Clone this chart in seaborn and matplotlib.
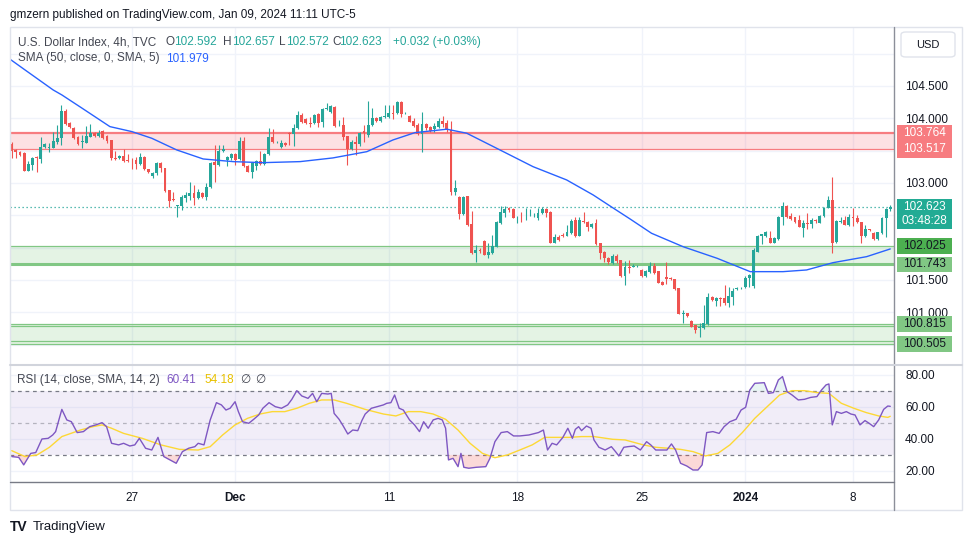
import numpy as np
import matplotlib
matplotlib.use("Agg")
import matplotlib.pyplot as plt
import matplotlib.transforms as mtransforms
from matplotlib.patches import Rectangle, FancyBboxPatch
from matplotlib.lines import Line2D
import seaborn as sns

# ---------------- data ----------------
opens = [103.602, 103.510, 103.479, 103.463, 103.185, 103.278, 103.401, 103.371, 103.561, 103.541,
         103.541, 103.633, 103.695, 104.113, 103.927, 103.850, 103.711, 103.633, 103.618, 103.711,
         103.773, 103.726, 103.803, 103.726, 103.664, 103.386, 103.386, 103.417, 103.355, 103.355,
         103.355, 103.293, 103.401, 103.216, 103.108, 103.154, 103.309, 103.231, 102.891, 102.752,
         102.644, 102.644, 102.767, 102.798, 102.845, 102.767, 102.845, 102.783, 102.937, 103.324,
         103.278, 103.494, 103.355, 103.386, 103.448, 103.371, 103.649, 103.262, 103.169, 103.262,
         103.340, 103.293, 103.448, 103.711, 103.625, 103.556, 103.618, 103.773, 103.757, 103.850,
         104.051, 103.989, 103.927, 103.927, 104.066, 103.943, 104.143, 104.097, 104.174, 103.888,
         103.896, 103.726, 103.525, 103.633, 103.602, 103.803, 103.742, 103.896, 104.004, 103.958,
         104.020, 104.020, 104.082, 104.082, 104.252, 104.074, 104.035, 103.958, 103.896, 103.757,
         103.912, 103.865, 103.834, 103.865, 103.958, 103.927, 103.819, 102.860, 102.783, 102.520,
         102.798, 102.365, 101.917, 101.963, 102.102, 101.886, 101.917, 102.010, 102.381, 102.535,
         102.613, 102.597, 102.466, 102.473, 102.481, 102.497, 102.497, 102.458, 102.535, 102.597,
         102.551, 102.072, 102.164, 102.195, 102.180, 102.226, 102.427, 102.180, 102.412, 102.396,
         102.319, 102.381, 102.072, 101.932, 101.839, 101.762, 101.870, 101.809, 101.561, 101.700,
         101.705, 101.711, 101.654, 101.561, 101.623, 101.716, 101.638, 101.468, 101.546, 101.530,
         101.515, 101.376, 100.978, 100.989, 100.865, 100.803, 100.757, 100.757, 100.819, 101.236,
         101.175, 101.221, 101.221, 101.144, 101.236, 101.360, 101.371, 101.391, 101.530, 101.406,
         101.932, 102.180, 102.180, 102.149, 102.072, 102.133, 102.473, 102.644, 102.489, 102.473,
         102.427, 102.303, 102.381, 102.365, 102.427, 102.381, 102.489, 102.613, 102.736, 102.087,
         102.396, 102.427, 102.350, 102.473, 102.458, 102.396, 102.180, 102.288, 102.226, 102.133,
         102.226, 102.458, 102.592]

highs = [103.633, 103.525, 103.494, 103.470, 103.340, 103.401, 103.417, 103.711, 103.618, 103.618,
         103.788, 103.896, 104.205, 104.143, 103.943, 103.865, 103.726, 103.742, 103.881, 103.912,
         103.788, 103.819, 103.819, 103.742, 103.670, 103.494, 103.432, 103.525, 103.448, 103.386,
         103.401, 103.463, 103.417, 103.220, 103.169, 103.324, 103.324, 103.236, 102.896, 102.860,
         102.659, 102.814, 102.860, 103.015, 102.968, 102.907, 102.860, 102.999, 103.324, 103.587,
         103.587, 103.587, 103.417, 103.463, 103.463, 103.711, 103.711, 103.278, 103.324, 103.355,
         103.494, 103.463, 103.850, 103.834, 103.649, 103.664, 103.633, 103.788, 103.912, 104.113,
         104.082, 104.004, 104.020, 104.066, 104.082, 104.159, 104.236, 104.205, 104.190, 103.973,
         104.020, 103.730, 103.664, 103.726, 103.788, 103.896, 104.267, 104.159, 104.020, 104.035,
         104.205, 104.205, 104.205, 104.260, 104.267, 104.097, 104.051, 104.004, 103.927, 104.097,
         103.927, 103.881, 103.927, 104.004, 104.035, 103.973, 103.958, 103.046, 102.798, 102.798,
         102.803, 102.566, 102.041, 101.994, 102.118, 102.072, 102.195, 102.412, 102.644, 102.644,
         102.628, 102.613, 102.489, 102.551, 102.613, 102.597, 102.535, 102.613, 102.628, 102.613,
         102.566, 102.211, 102.195, 102.226, 102.350, 102.443, 102.473, 102.473, 102.551, 102.412,
         102.381, 102.443, 102.077, 101.948, 101.855, 101.901, 101.901, 101.814, 101.793, 101.809,
         101.747, 101.724, 101.669, 101.654, 101.778, 101.762, 101.645, 101.484, 101.778, 101.546,
         101.522, 101.382, 101.035, 100.994, 100.881, 100.808, 100.834, 101.113, 101.298, 101.252,
         101.236, 101.236, 101.422, 101.391, 101.376, 101.391, 101.391, 101.561, 101.592, 101.994,
         102.195, 102.215, 102.257, 102.257, 102.164, 102.489, 102.705, 102.659, 102.535, 102.478,
         102.504, 102.427, 102.535, 102.458, 102.443, 102.504, 102.628, 102.798, 103.092, 102.427,
         102.473, 102.489, 102.520, 102.613, 102.504, 102.400, 102.350, 102.292, 102.242, 102.248,
         102.473, 102.613, 102.657]

lows = [103.386, 103.386, 103.417, 103.180, 103.180, 103.200, 103.169, 103.309, 103.541, 103.479,
        103.533, 103.602, 103.587, 103.896, 103.850, 103.680, 103.587, 103.541, 103.610, 103.703,
        103.711, 103.711, 103.680, 103.618, 103.355, 103.355, 103.371, 103.324, 103.324, 103.216,
        103.216, 103.278, 103.200, 103.154, 103.077, 103.123, 103.169, 102.860, 102.628, 102.721,
        102.473, 102.582, 102.705, 102.736, 102.659, 102.752, 102.767, 102.736, 102.922, 103.015,
        103.262, 103.479, 103.262, 103.355, 103.278, 103.355, 103.247, 103.162, 103.077, 103.200,
        103.278, 103.278, 103.432, 103.618, 103.618, 103.541, 103.571, 103.587, 103.571, 103.834,
        103.927, 103.912, 103.865, 103.912, 103.865, 103.865, 104.128, 104.082, 103.865, 103.881,
        103.664, 103.278, 103.510, 103.432, 103.571, 103.633, 103.711, 103.881, 103.943, 103.943,
        104.004, 104.004, 103.989, 104.066, 104.020, 104.066, 103.938, 103.865, 103.742, 103.479,
        103.819, 103.788, 103.788, 103.850, 103.865, 103.788, 102.814, 102.814, 102.443, 102.504,
        102.334, 101.901, 101.778, 101.917, 101.880, 101.839, 101.901, 102.002, 102.365, 102.473,
        102.551, 102.450, 102.381, 102.396, 102.427, 102.489, 102.473, 102.427, 102.520, 102.473,
        102.064, 102.064, 102.102, 102.164, 102.172, 102.211, 102.164, 102.172, 102.381, 102.257,
        102.303, 102.041, 101.824, 101.778, 101.747, 101.747, 101.762, 101.546, 101.422, 101.608,
        101.698, 101.700, 101.553, 101.553, 101.608, 101.592, 101.445, 101.414, 101.437, 101.499,
        101.352, 100.966, 100.834, 100.927, 100.765, 100.680, 100.618, 100.749, 100.811, 101.175,
        101.097, 101.097, 101.113, 101.082, 101.113, 101.345, 101.360, 101.376, 101.391, 101.376,
        101.925, 102.056, 102.164, 102.066, 102.064, 102.118, 102.350, 102.458, 102.427, 102.381,
        102.311, 102.164, 102.288, 102.303, 102.381, 102.373, 102.473, 102.605, 101.917, 102.072,
        102.381, 102.342, 102.334, 102.334, 102.381, 102.072, 102.164, 102.257, 102.118, 102.118,
        102.211, 102.164, 102.572]

closes = [103.494, 103.479, 103.432, 103.185, 103.293, 103.386, 103.386, 103.556, 103.598, 103.556,
          103.649, 103.695, 104.113, 103.912, 103.865, 103.695, 103.602, 103.641, 103.726, 103.773,
          103.726, 103.773, 103.695, 103.649, 103.386, 103.371, 103.417, 103.340, 103.340, 103.348,
          103.293, 103.401, 103.216, 103.169, 103.154, 103.309, 103.231, 102.876, 102.721, 102.736,
          102.652, 102.783, 102.814, 102.845, 102.767, 102.860, 102.783, 102.937, 103.309, 103.278,
          103.494, 103.525, 103.401, 103.448, 103.355, 103.649, 103.262, 103.169, 103.309, 103.340,
          103.293, 103.448, 103.711, 103.633, 103.633, 103.618, 103.587, 103.757, 103.850, 104.051,
          103.943, 103.927, 103.912, 104.051, 103.927, 104.143, 104.159, 104.190, 103.881, 103.896,
          103.711, 103.525, 103.633, 103.602, 103.773, 103.773, 103.896, 104.004, 103.958, 104.020,
          104.035, 104.082, 104.066, 104.252, 104.066, 104.082, 103.943, 103.881, 103.757, 103.912,
          103.850, 103.803, 103.881, 103.958, 103.912, 103.819, 102.860, 102.922, 102.520, 102.783,
          102.350, 101.917, 101.963, 101.952, 101.886, 101.932, 102.025, 102.396, 102.551, 102.597,
          102.582, 102.458, 102.473, 102.466, 102.489, 102.504, 102.504, 102.535, 102.597, 102.535,
          102.072, 102.164, 102.118, 102.180, 102.242, 102.412, 102.180, 102.427, 102.401, 102.319,
          102.365, 102.056, 101.917, 101.839, 101.778, 101.870, 101.793, 101.561, 101.700, 101.689,
          101.716, 101.716, 101.561, 101.638, 101.716, 101.608, 101.453, 101.422, 101.515, 101.515,
          101.360, 100.974, 100.989, 100.943, 100.772, 100.726, 100.772, 100.834, 101.236, 101.190,
          101.221, 101.205, 101.144, 101.252, 101.329, 101.376, 101.378, 101.530, 101.577, 101.963,
          102.180, 102.211, 102.242, 102.072, 102.149, 102.473, 102.644, 102.473, 102.443, 102.396,
          102.319, 102.381, 102.365, 102.427, 102.412, 102.489, 102.613, 102.736, 102.072, 102.412,
          102.412, 102.350, 102.473, 102.458, 102.396, 102.180, 102.288, 102.273, 102.133, 102.242,
          102.458, 102.597, 102.623]

# SMA(50) line, read at points along the curve (x = bar index)
sma_x = [-0.4, 3.2, 10.0, 12.1, 17.0, 23.7, 29.0, 33.8, 39.8, 46.2, 53.4, 60.6, 69.6, 77.5, 85.7,
         92.0, 97.3, 105.0, 109.8, 117.8, 125.8, 133.9, 140.3, 145.1, 149.2, 154.4, 162.0, 170.2,
         178.2, 186.1, 191.8, 198.2, 206.3, 212]
sma_v = [104.912, 104.747, 104.437, 104.360, 104.154, 103.870, 103.793, 103.690, 103.510, 103.370,
         103.329, 103.313, 103.329, 103.386, 103.483, 103.664, 103.777, 103.830, 103.768, 103.510,
         103.251, 103.046, 102.814, 102.613, 102.443, 102.221, 102.014, 101.835, 101.628, 101.628,
         101.654, 101.767, 101.860, 101.979]

# RSI(14) line
rsi_x = [0, 1.7, 2.9, 4.6, 5.8, 7.3, 8.8, 9.9, 10.6, 12.1,
         13.3, 14.4, 15.8, 17.3, 18.8, 20.3, 21.8, 22.9, 24.1, 25.8,
         27.0, 28.5, 29.7, 30.8, 32.3, 33.8, 35.3, 36.7, 38.2, 39.7,
         41.2, 42.7, 44.2, 45.0, 46.4, 47.9, 49.4, 50.6, 51.7, 52.7,
         53.9, 54.7, 55.7, 57.2, 58.4, 59.6, 60.6, 62.1, 63.6, 65.1,
         66.6, 67.6, 68.8, 70.0, 71.5, 72.6, 73.6, 74.8, 76.3, 77.1,
         77.8, 79.0, 80.0, 81.1, 82.3, 83.5, 84.5, 85.3, 86.8, 88.2,
         89.7, 90.5, 91.5, 92.4, 93.5, 94.5, 96.0, 97.2, 98.4, 99.4,
         100.5, 101.7, 102.9, 103.9, 104.7, 105.4, 106.5, 107.7, 108.4, 109.1,
         110.3, 112.1, 114.4, 115.4, 116.6, 118.1, 119.6, 121.1, 122.6, 124.8,
         127.1, 128.3, 129.3, 130.4, 131.5, 133.0, 134.2, 135.3, 136.0, 136.8,
         137.5, 138.7, 139.8, 140.5, 141.7, 143.2, 144.7, 145.7, 146.5, 147.7,
         148.7, 150.2, 151.7, 153.2, 154.2, 155.4, 156.9, 158.1, 159.2, 160.2,
         161.4, 162.9, 164.4, 165.6, 166.6, 167.7, 169.2, 170.7, 171.9, 173.3,
         174.8, 176.0, 177.1, 178.1, 179.3, 181.6, 182.6, 183.8, 185.0, 186.0,
         187.1, 188.3, 189.8, 191.3, 192.8, 194.3, 195.4, 196.5, 197.2, 198.0,
         199.0, 200.2, 201.4, 202.5, 203.5, 204.7, 205.9, 206.9, 208.0, 209.2,
         210.4, 211.4, 212]
rsi_v = [29.0, 28.5, 23.8, 31.0, 31.5, 40.0, 40.4, 42.5, 44.6, 58.5,
         51.9, 50.8, 44.0, 44.6, 47.7, 48.8, 50.2, 47.7, 37.3, 36.3,
         37.3, 35.6, 36.3, 40.4, 34.2, 33.1, 41.0, 29.0, 26.9, 24.8,
         32.1, 34.2, 35.2, 37.3, 36.3, 51.9, 62.7, 61.3, 58.1, 59.2,
         63.3, 57.1, 50.8, 49.8, 52.3, 55.0, 59.2, 62.7, 60.2, 59.2,
         61.3, 64.8, 70.2, 66.9, 65.4, 68.5, 63.3, 68.5, 68.1, 68.5,
         56.0, 52.3, 48.1, 43.1, 45.6, 45.2, 51.5, 55.6, 59.2, 60.2,
         61.3, 62.3, 62.7, 67.5, 59.2, 58.1, 51.9, 48.8, 44.6, 50.8,
         46.7, 51.9, 52.9, 51.9, 46.7, 26.9, 27.9, 22.7, 31.0, 22.3,
         21.7, 22.3, 22.7, 27.9, 38.3, 44.0, 44.6, 41.9, 41.9, 42.5,
         44.0, 45.6, 33.1, 37.3, 36.3, 41.0, 46.7, 40.4, 46.0, 47.7,
         45.2, 48.1, 46.7, 39.4, 34.8, 33.1, 35.2, 32.1, 29.4, 34.8,
         35.2, 35.6, 33.1, 38.3, 36.3, 33.1, 33.1, 33.1, 36.9, 33.1,
         24.8, 23.1, 20.6, 20.6, 23.8, 44.0, 44.6, 43.5, 47.7, 50.8,
         52.3, 58.1, 59.8, 70.6, 74.8, 75.2, 68.5, 69.0, 76.9, 79.0,
         69.6, 67.5, 64.4, 64.8, 66.0, 66.5, 70.6, 73.8, 74.4, 48.8,
         57.1, 56.0, 57.1, 55.6, 55.0, 48.8, 51.5, 49.8, 47.7, 51.9,
         58.5, 60.6, 60.41]

# RSI-based SMA(14)
rsima_x = [0, 3.2, 6.1, 9.1, 12.1, 16.6, 19.6, 21.8, 24.1, 27.0,
           31.5, 36.0, 40.5, 45.0, 47.9, 50.9, 53.9, 56.9, 59.9, 62.9,
           65.9, 68.8, 71.8, 74.8, 77.8, 80.8, 85.3, 89.7, 92.7, 95.7,
           98.7, 101.7, 104.7, 107.7, 110.6, 113.6, 116.6, 119.6, 122.6, 125.6,
           128.6, 131.5, 134.5, 137.5, 140.5, 145.0, 148.0, 152.4, 155.4, 158.4,
           161.4, 164.4, 167.4, 170.4, 173.3, 176.3, 179.3, 182.3, 185.3, 188.3,
           191.3, 194.3, 197.2, 200.2, 203.2, 206.2, 209.2, 211.4, 212]
rsima_v = [32.7, 29.0, 30.0, 34.8, 41.5, 45.6, 47.7, 48.8, 46.7, 43.5,
           40.4, 36.3, 33.5, 33.1, 35.2, 42.5, 48.8, 52.9, 55.6, 57.1,
           57.1, 59.2, 62.3, 64.4, 64.4, 62.3, 58.5, 55.6, 54.4, 57.1,
           57.1, 55.6, 52.3, 45.6, 37.3, 31.0, 28.3, 30.0, 33.1, 36.3,
           41.0, 41.0, 41.0, 41.5, 41.5, 39.8, 39.4, 36.3, 34.8, 34.2,
           33.5, 32.1, 29.4, 31.0, 36.3, 44.0, 52.9, 60.2, 67.5, 70.2,
           70.2, 69.0, 68.5, 62.3, 59.2, 56.5, 54.4, 53.5, 54.18]

# time axis
tick_pos = [29, 54, 91, 122, 152, 177, 203]
tick_lab = ["27", "Dec", "11", "18", "25", "2024", "8"]
bold_labels = ["Dec", "2024"]

# price scale
price_ticks = [100.5, 101.0, 101.5, 102.0, 102.5, 103.0, 103.5, 104.0, 104.5, 105.0]
price_shown = [101.0, 101.5, 103.0, 104.0, 104.5]
rsi_ticks = [20, 40, 60, 80]

# drawn zones
red_zone = [103.517, 103.764]
green_zone1 = [101.743, 102.025]
green_zone2 = [100.505, 100.815]
last_price = 102.623
countdown = "03:48:28"
sma_last = 101.979
rsi_last, rsima_last = 60.41, 54.18

# ---------------- styling ----------------
sns.set_theme(style="white")
plt.rcParams["font.family"] = ["Liberation Sans", "DejaVu Sans"]
plt.rcParams["axes.unicode_minus"] = False

W, H = 970, 545
fig = plt.figure(figsize=(W / 100, H / 100), dpi=100)
fig.patch.set_facecolor("white")


def fx(px):
    return px / W


def fy(py):
    return 1 - py / H


L_PX, R_PX = 10, 894
TOP_PX, MID_PX, BOT_PX = 27, 365, 482

ax = fig.add_axes([fx(L_PX), fy(MID_PX), fx(R_PX) - fx(L_PX), fy(TOP_PX) - fy(MID_PX)])
axr = fig.add_axes([fx(L_PX), fy(BOT_PX), fx(R_PX) - fx(L_PX), fy(MID_PX) - fy(BOT_PX)], sharex=ax)

GREEN = "#26a69a"
RED = "#ef5350"
TXT = "#131722"
LEG = "#434651"
GRID = "#f0f3fa"
FS = 8.5

o = np.array(opens)
h = np.array(highs)
l = np.array(lows)
c = np.array(closes)
x = np.arange(len(c))
cols = np.where(c >= o, GREEN, RED)

XMIN, XMAX = -0.41, 212.9
YMIN, YMAX = 100.185, 105.41

for a in (ax, axr):
    a.set_facecolor("white")
    for s in a.spines.values():
        s.set_visible(False)
    a.set_axisbelow(True)

# zones
ax.axhspan(red_zone[0], red_zone[1], color="#f23645", alpha=0.15, lw=0, zorder=1)
ax.axhline(red_zone[1], color="#f77c80", lw=1.6, zorder=2)
ax.axhline(red_zone[0], color="#f77c80", lw=0.9, zorder=2)
ax.axhspan(green_zone1[0], green_zone1[1], color="#4caf50", alpha=0.15, lw=0, zorder=1)
ax.axhline(green_zone1[1], color="#81c784", lw=0.9, zorder=2)
ax.axhline(green_zone1[0], color="#81c784", lw=2.2, zorder=2)
ax.axhspan(green_zone2[0], green_zone2[1], color="#4caf50", alpha=0.15, lw=0, zorder=1)
ax.axhline(green_zone2[1], color="#81c784", lw=0.9, zorder=2)
ax.axhline(green_zone2[1] - 0.027, color="#81c784", lw=0.9, zorder=2)
ax.axhline(green_zone2[0] + 0.05, color="#81c784", lw=0.9, zorder=2)
ax.axhline(green_zone2[0], color="#81c784", lw=0.9, zorder=2)

# last price dotted line
ax.axhline(last_price, color=GREEN, lw=0.9, ls=(0, (1, 2.2)), zorder=3)

# candles
ax.vlines(x, l, h, colors=cols, lw=0.8, zorder=4)
ax.bar(x, np.maximum(np.abs(c - o), 0.012), bottom=np.minimum(o, c), width=0.7,
       color=cols, linewidth=0, zorder=5)

# SMA
sns.lineplot(x=sma_x, y=sma_v, ax=ax, color="#2962ff", linewidth=1.0, estimator=None,
             sort=False, zorder=6)

ax.set_xlim(XMIN, XMAX)
ax.set_ylim(YMIN, YMAX)
ax.set_xticks(tick_pos)
ax.set_yticks(price_ticks)
ax.set_yticklabels([f"{v:.3f}" if v in price_shown else "" for v in price_ticks])
ax.grid(True, color=GRID, lw=1)
ax.yaxis.tick_right()
ax.tick_params(axis="y", length=0, pad=8, labelsize=FS, labelcolor=TXT)
ax.tick_params(axis="x", length=0, labelbottom=False, bottom=False)
ax.set_xlabel("")
ax.set_ylabel("")

# RSI pane
axr.axhspan(30, 70, color="#7e57c2", alpha=0.1, lw=0, zorder=1)
axr.axhline(70, color="#787b86", lw=0.9, ls=(0, (3, 3)), zorder=2)
axr.axhline(50, color="#787b86", alpha=0.5, lw=0.9, ls=(0, (3, 3)), zorder=2)
axr.axhline(30, color="#787b86", lw=0.9, ls=(0, (3, 3)), zorder=2)
rx = np.array(rsi_x)
rv = np.array(rsi_v)
axr.fill_between(rx, rv, 30, where=rv < 30, interpolate=True, color="#ef5350", alpha=0.22,
                 lw=0, zorder=2)
axr.fill_between(rx, rv, 70, where=rv > 70, interpolate=True, color="#26a69a", alpha=0.10,
                 lw=0, zorder=2)
sns.lineplot(x=rsima_x, y=rsima_v, ax=axr, color="#fdd835", linewidth=1.0, estimator=None,
             sort=False, zorder=3)
sns.lineplot(x=rsi_x, y=rsi_v, ax=axr, color="#7e57c2", linewidth=1.0, estimator=None,
             sort=False, zorder=4)
axr.set_ylim(13.1, 86.25)
axr.set_xlim(XMIN, XMAX)
axr.set_yticks(rsi_ticks)
axr.set_yticklabels([f"{v:.2f}" for v in rsi_ticks])
axr.grid(True, color=GRID, lw=1)
axr.yaxis.tick_right()
axr.tick_params(axis="y", length=0, pad=8, labelsize=FS, labelcolor=TXT)
axr.set_xticks(tick_pos)
axr.set_xticklabels(tick_lab)
axr.tick_params(axis="x", length=0, pad=7, labelsize=FS, labelcolor=TXT)
for t in axr.get_xticklabels():
    if t.get_text() in bold_labels:
        t.set_fontweight("bold")
axr.set_xlabel("")
axr.set_ylabel("")

# price label boxes on the right scale
trans = mtransforms.blended_transform_factory(ax.transAxes, ax.transData)
ppx = (YMAX - YMIN) / (MID_PX - TOP_PX)
bx0 = (897 - L_PX) / (R_PX - L_PX)
bx1 = (952 - L_PX) / (R_PX - L_PX)
bxc = (bx0 + bx1) / 2


def box(lo, hi, color):
    ax.add_patch(Rectangle((bx0, lo), bx1 - bx0, hi - lo, transform=trans, facecolor=color,
                           edgecolor="none", clip_on=False, zorder=20))


def btxt(y, s, color):
    ax.text(bxc, y, s, transform=trans, ha="center", va="center", color=color, fontsize=FS,
            zorder=21, clip_on=False)


box(red_zone[0] - 8.4 * ppx, red_zone[1] + 8.6 * ppx, "#f77c80")
btxt(red_zone[1], f"{red_zone[1]:.3f}", "white")
btxt(red_zone[0], f"{red_zone[0]:.3f}", "white")

box(last_price - 21.5 * ppx, last_price + 8.5 * ppx, "#22ab94")
btxt(last_price, f"{last_price:.3f}", "white")
btxt(last_price - 14 * ppx, countdown, "white")

box(green_zone1[1] - 7.8 * ppx, green_zone1[1] + 7.8 * ppx, "#4caf50")
btxt(green_zone1[1], f"{green_zone1[1]:.3f}", TXT)
box(green_zone1[0] - 7.6 * ppx, green_zone1[0] + 7.6 * ppx, "#81c784")
btxt(green_zone1[0], f"{green_zone1[0]:.3f}", TXT)
box(green_zone2[1] - 8 * ppx, green_zone2[1] + 8 * ppx, "#81c784")
btxt(green_zone2[1], f"{green_zone2[1]:.3f}", TXT)
box(green_zone2[0] - 8 * ppx, green_zone2[0] + 8 * ppx, "#81c784")
btxt(green_zone2[0], f"{green_zone2[0]:.3f}", TXT)

# frame & separators
fig.add_artist(Rectangle((fx(10), fy(510)), fx(962) - fx(10), fy(27) - fy(510),
                         transform=fig.transFigure, fill=False, ec="#e0e3eb", lw=1))
fig.add_artist(Line2D([fx(R_PX), fx(R_PX)], [fy(27), fy(510)], transform=fig.transFigure,
                      color="#8c8f99", lw=1))
fig.add_artist(Line2D([fx(10), fx(962)], [fy(MID_PX), fy(MID_PX)], transform=fig.transFigure,
                      color="#d1d4dc", lw=1.5))
fig.add_artist(Line2D([fx(10), fx(R_PX)], [fy(BOT_PX), fy(BOT_PX)], transform=fig.transFigure,
                      color="#787b86", lw=1))

# USD box
fig.add_artist(FancyBboxPatch((fx(901), fy(57)), fx(54), 25 / H,
                              boxstyle="round,pad=0,rounding_size=0.005",
                              transform=fig.transFigure, fc="white", ec="#e0e3eb", lw=1))
fig.text(fx(928), fy(44.5), "USD", ha="center", va="center", fontsize=8, color=TXT)

# header texts
fig.text(fx(10), fy(15), "gmzern published on TradingView.com, Jan 09, 2024 11:11 UTC-5",
         ha="left", va="center", fontsize=FS, color=TXT)

legend1 = [("U.S. Dollar Index, 4h, TVC", 18.3, LEG),
           ("O", 165.7, LEG), (f"{opens[-1]:.3f}", 174.0, GREEN),
           ("H", 222.7, LEG), (f"{highs[-1]:.3f}", 232.3, GREEN),
           ("L", 279.3, LEG), (f"{lows[-1]:.3f}", 286.0, GREEN),
           ("C", 332.0, LEG), (f"{closes[-1]:.3f}", 339.5, GREEN),
           ("+0.032 (+0.03%)", 392.7, GREEN)]
for s, px, col in legend1:
    fig.text(fx(px), fy(42.3), s, ha="left", va="center", fontsize=FS, color=col)
fig.text(fx(18.3), fy(58.5), "SMA (50, close, 0, SMA, 5)", ha="left", va="center",
         fontsize=FS, color=LEG)
fig.text(fx(165.7), fy(58.5), f"{sma_last:.3f}", ha="left", va="center", fontsize=FS,
         color="#2962ff")

legend_rsi = [("RSI (14, close, SMA, 14, 2)", 17.0, LEG), (f"{rsi_last:.2f}", 166.0, "#7e57c2"),
              (f"{rsima_last:.2f}", 204.0, "#e8c100"), ("\u2205", 240.0, LEG), ("\u2205", 255.0, LEG)]
for s, px, col in legend_rsi:
    fig.text(fx(px), fy(380), s, ha="left", va="center", fontsize=FS, color=col,
             family=["Liberation Sans", "DejaVu Sans"])

# TradingView footer
fig.text(fx(10), fy(527), "TV", ha="left", va="center", fontsize=10, fontweight="heavy",
         color=TXT)
fig.text(fx(33), fy(527), "TradingView", ha="left", va="center", fontsize=9.5, color=TXT)

fig.savefig("out.png", dpi=100, facecolor="white")
